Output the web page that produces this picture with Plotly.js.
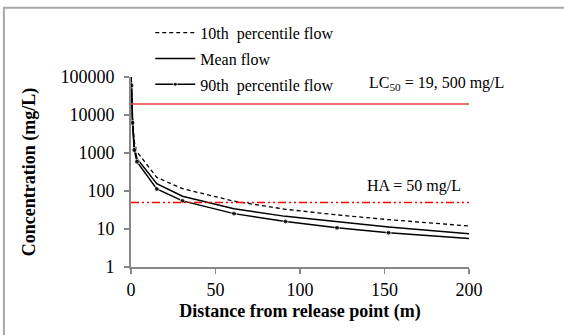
<!DOCTYPE html>
<html>
<head>
<meta charset="utf-8">
<script src="https://cdn.plot.ly/plotly-3.0.1.min.js"></script>
<style>html,body{margin:0;padding:0;background:#fff;}#chart{width:564px;height:335px;}</style>
</head>
<body>
<div id="chart"></div>
<script>
// Data
const distance = [0.05, 0.3, 0.9, 1.9, 3.5, 15.24, 30.48, 60.96, 91.44, 121.92, 152.4, 200];
const p10Flow  = [100000, 65000, 9000, 2000, 1080, 228, 115, 54, 33, 23.5, 17.6, 12];
const meanFlow = [100000, 62000, 7000, 1450, 720, 155, 73, 34, 21.5, 15.3, 11.3, 7.5];
const p90Flow  = [100000, 60000, 6200, 1200, 590, 113, 55, 25.4, 15.8, 10.8, 8.0, 5.6];
const p90MarkerShown = [false, true, true, true, true, true, true, true, true, true, true, false];
const refX = [0, 200];
const lc50Value = 19500;
const haValue = 50;
const yTickVals = [1, 10, 100, 1000, 10000, 100000];
const yTickText = ['1', '10', '100', '1000', '10000', '100000'];
const xTickVals = [0, 50, 100, 150, 200];
const seriesNames = ['10th  percentile flow', 'Mean flow', '90th  percentile flow'];

const FONT = '"Liberation Serif", "Times New Roman", serif';

const traces = [
  {x: distance, y: p10Flow, name: seriesNames[0], legendgroup: 'g1', mode: 'lines',
   line: {color: '#000', width: 1.3, dash: '4px,3px'}},
  {x: distance, y: meanFlow, name: seriesNames[1], legendgroup: 'g2', mode: 'lines',
   line: {color: '#000', width: 1.5}},
  {x: distance, y: p90Flow, name: seriesNames[2], legendgroup: 'g3', mode: 'lines+markers',
   line: {color: '#000', width: 1.5},
   marker: {color: '#000', size: p90MarkerShown.map(s => s ? 5 : 0)}},
  {x: refX, y: [lc50Value, lc50Value], mode: 'lines', showlegend: false, hoverinfo: 'skip',
   line: {color: '#e8403c', width: 1.6}},
  {x: refX, y: [haValue, haValue], mode: 'lines', showlegend: false, hoverinfo: 'skip',
   line: {color: '#ff0000', width: 1.5, dash: '8px,3px,2px,3px,2px,3px'}}
];

const layout = {
  width: 564, height: 335,
  margin: {l: 130.6, r: 95.3, t: 76.5, b: 68},
  paper_bgcolor: '#fff', plot_bgcolor: '#fff',
  font: {family: FONT, color: '#000', size: 16},
  showlegend: true,
  legend: {x: 0.057, xanchor: 'left', y: 1.322, yanchor: 'top',
           font: {family: FONT, size: 16, color: '#000'}, bgcolor: 'rgba(0,0,0,0)',
           itemwidth: 40, tracegroupgap: 2},
  xaxis: {range: [0, 200], tickvals: xTickVals, showgrid: false, zeroline: false,
          showline: true, linecolor: '#878787', linewidth: 2,
          ticks: 'outside', ticklen: 5, tickwidth: 1.5, tickcolor: '#878787',
          tickfont: {family: FONT, size: 18, color: '#000'},
          title: {text: '<b>Distance from release point (m)</b>', font: {family: FONT, size: 18, color: '#000'}, standoff: 6}},
  yaxis: {type: 'log', range: [0, 5], tickvals: yTickVals, ticktext: yTickText,
          showgrid: false, zeroline: false,
          showline: true, linecolor: '#878787', linewidth: 2,
          ticks: 'outside', ticklen: 5, tickwidth: 1.5, tickcolor: '#878787',
          ticklabelstandoff: 6,
          tickfont: {family: FONT, size: 18, color: '#000'},
          title: {text: '<b>Concentration (mg/L)</b>', font: {family: FONT, size: 18, color: '#000'}, standoff: 20}},
  annotations: [
    {xref: 'paper', yref: 'paper', x: 0.699, y: 0.966, xanchor: 'left', yanchor: 'middle',
     text: 'LC<sub>50</sub> = 19, 500 mg/L', showarrow: false, font: {family: FONT, size: 16, color: '#000'}},
    {xref: 'paper', yref: 'paper', x: 0.693, y: 0.425, xanchor: 'left', yanchor: 'middle',
     text: 'HA = 50 mg/L', showarrow: false, font: {family: FONT, size: 16, color: '#000'}}
  ],
  shapes: [
    {type: 'path', xref: 'paper', yref: 'paper',
     path: 'M -0.376 -0.4 L -0.376 1.365 L 1.4 1.365',
     line: {color: '#a8a8a8', width: 2}}
  ]
};

Plotly.newPlot('chart', traces, layout, {displayModeBar: false, staticPlot: true});
</script>
</body>
</html>
